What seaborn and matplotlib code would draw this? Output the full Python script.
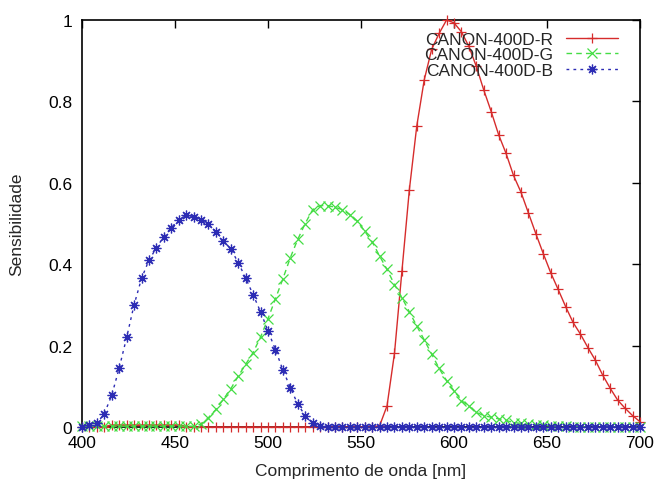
import numpy as np
import pandas as pd
import matplotlib
matplotlib.use("Agg")
import matplotlib.pyplot as plt
import seaborn as sns

wavelength = list(range(400, 701, 4))

sens_r = ([0.0] * 4 + [0.005] * 10 + [0.0] * 26 +
          [0.003, 0.052, 0.181, 0.383, 0.583, 0.74, 0.853, 0.928, 0.967, 1.0,
           0.993, 0.971, 0.935, 0.886, 0.828, 0.775, 0.718, 0.672, 0.618, 0.577,
           0.526, 0.475, 0.426, 0.379, 0.338, 0.296, 0.257, 0.228, 0.195, 0.164,
           0.127, 0.095, 0.066, 0.046, 0.028, 0.013])

sens_g = ([0.002] * 16 +
          [0.007, 0.023, 0.043, 0.068, 0.094, 0.125, 0.154, 0.183, 0.221, 0.266,
           0.315, 0.364, 0.416, 0.461, 0.50, 0.534, 0.544, 0.544, 0.54, 0.534,
           0.522, 0.506, 0.481, 0.455, 0.42, 0.387, 0.35, 0.318, 0.283, 0.248,
           0.214, 0.179, 0.144, 0.114, 0.089, 0.065, 0.051, 0.036, 0.028, 0.024,
           0.020, 0.016, 0.011, 0.009, 0.007, 0.005, 0.004, 0.003, 0.002, 0.002,
           0.001] + [0.0] * 9)

sens_b = ([0.0, 0.004, 0.009, 0.033, 0.078, 0.145, 0.22, 0.30, 0.365, 0.41,
           0.44, 0.468, 0.49, 0.509, 0.52, 0.517, 0.509, 0.498, 0.48, 0.458,
           0.437, 0.404, 0.366, 0.325, 0.283, 0.236, 0.19, 0.14, 0.097, 0.056,
           0.028, 0.009, 0.002] + [0.0] * 43)

labels = ["CANON-400D-R", "CANON-400D-G", "CANON-400D-B"]
colors = ["#d62c2c", "#44dd44", "#2c2cb4"]
linestyles = ["-", (0, (4, 3)), (0, (2, 3))]
markers = ["+", "x", (8, 2, 0)]
xticks = [400, 450, 500, 550, 600, 650, 700]
yticks = [0, 0.2, 0.4, 0.6, 0.8, 1]
ytick_labels = ["0", "0.2", "0.4", "0.6", "0.8", "1"]

sns.set_style("white")
plt.rcParams["font.family"] = ["Liberation Sans", "DejaVu Sans"]
FS = 12.5

fig = plt.figure(figsize=(6.57, 4.81), dpi=100)
ax = fig.add_axes([82 / 657, 1 - 428 / 481, (640 - 82) / 657, (428 - 21) / 481])

series = [sens_r, sens_g, sens_b]
for vals, lab, col, ls, mk in zip(series, labels, colors, linestyles, markers):
    df = pd.DataFrame({"nm": wavelength, "s": vals})
    sns.lineplot(data=df, x="nm", y="s", ax=ax, color=col, marker=mk,
                 markersize=7, markeredgewidth=0.9, linewidth=1.0,
                 label=lab, clip_on=False, markeredgecolor=col)
    ax.lines[-1].set_linestyle(ls)

ax.set_xlim(400, 700)
ax.set_ylim(0, 1)
ax.set_xticks(xticks)
ax.set_yticks(yticks)
ax.set_yticklabels(ytick_labels)
ax.tick_params(direction="in", length=5.5, width=1.0, top=True, right=True,
               labelsize=FS, colors="black")
ax.tick_params(axis="y", pad=7)
ax.tick_params(axis="x", pad=6)
for sp in ax.spines.values():
    sp.set_color("black")
    sp.set_linewidth(1.2)
    sp.set_zorder(1)

ax.set_xlabel("Comprimento de onda [nm]", fontsize=FS, labelpad=9)
ax.set_ylabel("Sensibilidade", fontsize=FS, labelpad=17)

leg = ax.legend(loc="upper right", bbox_to_anchor=(0.982, 1.0), frameon=False,
                markerfirst=False, numpoints=1, fontsize=FS, handlelength=3.0,
                handletextpad=0.7, labelspacing=0.0, borderaxespad=0.3)
for lh, ls in zip(leg.get_lines(), linestyles):
    lh.set_linestyle(ls)

fig.savefig("out.png", dpi=100, facecolor="white")
